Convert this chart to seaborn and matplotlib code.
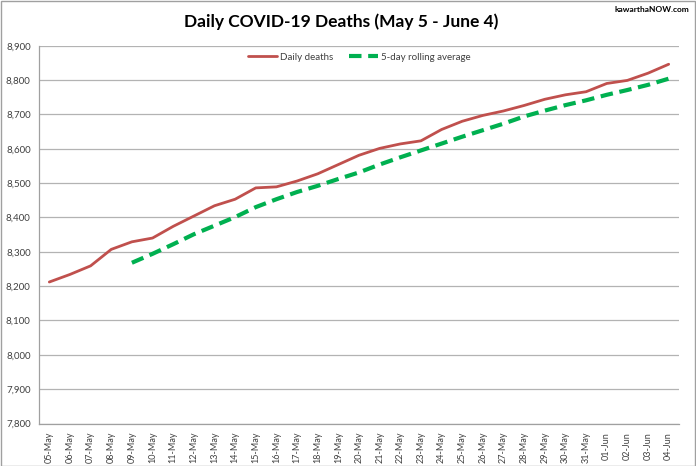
import numpy as np
import pandas as pd
import matplotlib
matplotlib.use("Agg")
import matplotlib.pyplot as plt
from matplotlib.patches import Rectangle
from matplotlib.ticker import FuncFormatter, FixedLocator
import seaborn as sns

dates = ["05-May", "06-May", "07-May", "08-May", "09-May", "10-May", "11-May", "12-May",
         "13-May", "14-May", "15-May", "16-May", "17-May", "18-May", "19-May", "20-May",
         "21-May", "22-May", "23-May", "24-May", "25-May", "26-May", "27-May", "28-May",
         "29-May", "30-May", "31-May", "01-Jun", "02-Jun", "03-Jun", "04-Jun"]
daily_deaths = [8212, 8234, 8259, 8307, 8329, 8340, 8374, 8404, 8434, 8453, 8486, 8489,
                8506, 8527, 8554, 8581, 8601, 8614, 8623, 8656, 8680, 8697, 8710, 8726,
                8744, 8757, 8766, 8790, 8799, 8820, 8846]
rolling_avg = [np.nan, np.nan, np.nan, np.nan, 8268, 8294, 8322, 8351, 8376, 8401, 8430,
               8453, 8474, 8492, 8512, 8531, 8554, 8575, 8595, 8615, 8635, 8654, 8673,
               8694, 8711, 8727, 8741, 8757, 8771, 8786, 8804]
yticks = [7800, 7900, 8000, 8100, 8200, 8300, 8400, 8500, 8600, 8700, 8800, 8900]

df = pd.DataFrame({"idx": np.arange(len(dates)), "date": dates,
                   "daily": daily_deaths, "avg": rolling_avg})

sns.set_style("white")
plt.rcParams["font.family"] = ["Lato", "DejaVu Sans"]

fig = plt.figure(figsize=(6.96, 4.66), dpi=100)
ax = fig.add_axes([39/696, 1-423.5/466, 640/696, (423.5-45.7)/466])

sns.lineplot(data=df, x="idx", y="daily", ax=ax, color="#C0504D", linewidth=2.0,
             label="Daily deaths")
sns.lineplot(data=df, x="idx", y="avg", ax=ax, color="#00B050", linewidth=3.0,
             linestyle=(0, (3, 1.6)), label="5-day rolling average")

ax.set_xlim(-0.5, len(dates) - 0.5)
ax.set_ylim(yticks[0], yticks[-1])
ax.set_yticks(yticks)
ax.yaxis.set_major_formatter(FuncFormatter(lambda v, p: f"{int(v):,}"))
ax.set_xticks(df["idx"])
ax.set_xticklabels(dates, rotation=90, fontsize=6.5, color="#404040")
ax.xaxis.set_minor_locator(FixedLocator(np.arange(-0.5, len(dates), 1.0)))
ax.tick_params(axis="x", which="major", length=0, pad=6)
ax.tick_params(axis="x", which="minor", length=4, color="#A0A0A0", width=0.8)
ax.tick_params(axis="y", length=4, color="#A0A0A0", width=0.8, labelsize=7, labelcolor="#404040", pad=2)
ax.set_xlabel("")
ax.set_ylabel("")

ax.grid(axis="y", color="#B3B3B3", linewidth=0.9)
ax.set_axisbelow(True)
for s in ["top", "right"]:
    ax.spines[s].set_visible(False)
for s in ["left", "bottom"]:
    ax.spines[s].set_color("#A0A0A0")
    ax.spines[s].set_linewidth(0.9)

leg = ax.legend(loc="upper center", bbox_to_anchor=(0.5, 1.0), ncol=2, frameon=False,
                fontsize=7, handlelength=3.0, columnspacing=1.6, handletextpad=0.3,
                borderaxespad=0.3)
for t in leg.get_texts():
    t.set_color("#404040")

fig.text(0.49, 1 - 22/466, "Daily COVID-19 Deaths (May 5 - June 4)", ha="center", va="center",
         fontsize=12.5, fontweight="bold", color="#000000")
fig.text(0.99, 1 - 10/466, "kawarthaNOW.com", ha="right", va="center",
         fontsize=6, fontweight="bold", color="#000000")

fig.patches.append(Rectangle((0.001, 0.001), 0.997, 0.997, transform=fig.transFigure,
                             fill=False, edgecolor="#A0A0A0", linewidth=1.0))

fig.savefig("out.png", dpi=100)
